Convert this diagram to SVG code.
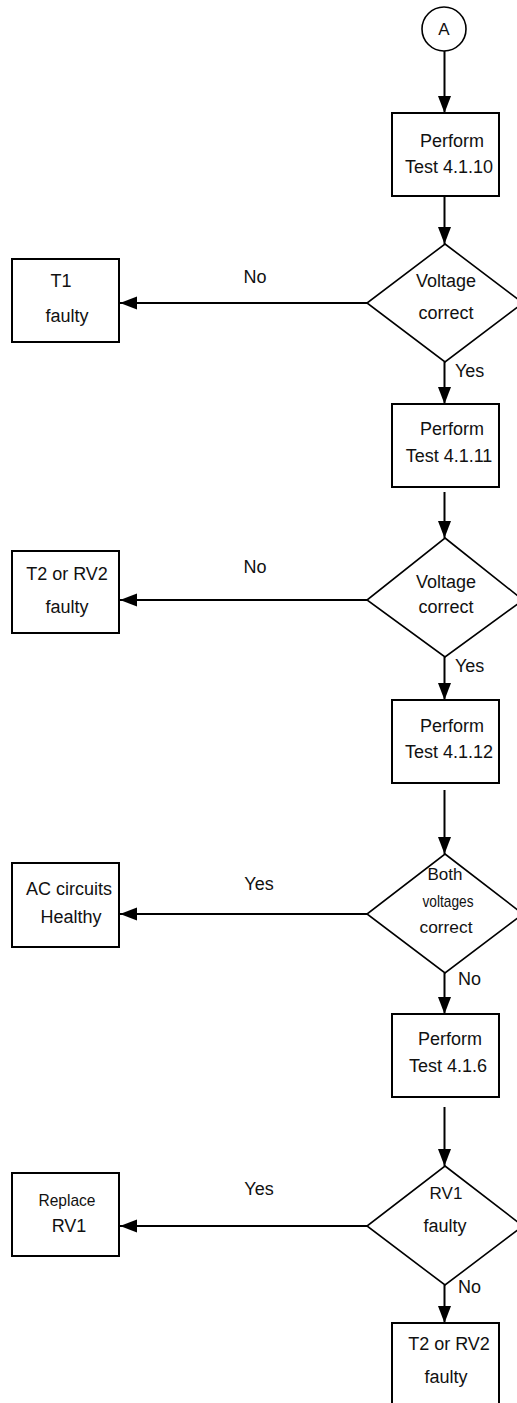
<svg xmlns="http://www.w3.org/2000/svg" width="517" height="1403" viewBox="0 0 517 1403">
<style>
.box{fill:#fff;stroke:#000;stroke-width:2}
.dia{fill:#fff;stroke:#000;stroke-width:1.6}
.con{fill:none;stroke:#000;stroke-width:2}
text{font-family:"Liberation Sans",Arial,sans-serif;font-size:18px;fill:#111;text-anchor:middle}
.sm{font-size:17px}
.lbl{text-anchor:start}
</style>
<defs>
<marker id="ah" markerUnits="userSpaceOnUse" markerWidth="18" markerHeight="14" refX="17" refY="6.5" orient="auto">
<path d="M0,0 L17,6.5 L0,13 z" fill="#000"/>
</marker>
</defs>
<rect width="517" height="1403" fill="#fff"/>
<g id="connectors">
<line class="con" x1="444.5" y1="51" x2="444.5" y2="113" marker-end="url(#ah)"/>
<line class="con" x1="444.5" y1="197" x2="444.5" y2="244" marker-end="url(#ah)"/>
<line class="con" x1="367" y1="303" x2="120" y2="303" marker-end="url(#ah)"/>
<line class="con" x1="444.5" y1="362" x2="444.5" y2="404" marker-end="url(#ah)"/>
<line class="con" x1="444.5" y1="492" x2="444.5" y2="538" marker-end="url(#ah)"/>
<line class="con" x1="367" y1="600" x2="120" y2="600" marker-end="url(#ah)"/>
<line class="con" x1="444.5" y1="657" x2="444.5" y2="700" marker-end="url(#ah)"/>
<line class="con" x1="444.5" y1="790" x2="444.5" y2="854" marker-end="url(#ah)"/>
<line class="con" x1="367" y1="914" x2="120" y2="914" marker-end="url(#ah)"/>
<line class="con" x1="444.5" y1="973" x2="444.5" y2="1014" marker-end="url(#ah)"/>
<line class="con" x1="444.5" y1="1107" x2="444.5" y2="1166" marker-end="url(#ah)"/>
<line class="con" x1="367" y1="1226" x2="120" y2="1226" marker-end="url(#ah)"/>
<line class="con" x1="444.5" y1="1285" x2="444.5" y2="1323" marker-end="url(#ah)"/>
<text x="255" y="283">No</text>
<text class="lbl" x="455" y="377">Yes</text>
<text x="255" y="573">No</text>
<text class="lbl" x="455" y="672">Yes</text>
<text x="259" y="890">Yes</text>
<text class="lbl" x="458" y="985">No</text>
<text x="259" y="1195">Yes</text>
<text class="lbl" x="458" y="1293">No</text>
</g>
<g id="startA">
<circle cx="444" cy="29" r="22" fill="#fff" stroke="#000" stroke-width="1.6"/>
<text x="444" y="35" style="font-size:17px">A</text>
</g>
<g id="test4110">
<rect class="box" x="392" y="113" width="107" height="83"/>
<text x="452" y="147">Perform</text>
<text x="449" y="173">Test 4.1.10</text>
</g>
<g id="dec1">
<polygon class="dia" points="445,244 523,303 445,362 367,303"/>
<text x="446" y="287">Voltage</text>
<text x="446" y="319">correct</text>
</g>
<g id="t1faulty">
<rect class="box" x="12" y="259" width="107" height="83"/>
<text x="61" y="287">T1</text>
<text x="67" y="322">faulty</text>
</g>
<g id="test4111">
<rect class="box" x="392" y="404" width="107" height="83"/>
<text x="452" y="435">Perform</text>
<text x="449" y="462">Test 4.1.11</text>
</g>
<g id="dec2">
<polygon class="dia" points="445,538 523,600 445,657 367,600"/>
<text x="446" y="588">Voltage</text>
<text x="446" y="613">correct</text>
</g>
<g id="t2faulty">
<rect class="box" x="12" y="551" width="107" height="82"/>
<text x="67" y="580">T2 or RV2</text>
<text x="67" y="613">faulty</text>
</g>
<g id="test4112">
<rect class="box" x="392" y="700" width="107" height="83"/>
<text x="452" y="732">Perform</text>
<text x="449" y="758">Test 4.1.12</text>
</g>
<g id="dec3">
<polygon class="dia" points="445,854 523,914 445,973 367,914"/>
<text class="sm" x="445" y="880" textLength="35" lengthAdjust="spacingAndGlyphs">Both</text>
<text class="sm" x="448" y="907" textLength="51" lengthAdjust="spacingAndGlyphs">voltages</text>
<text class="sm" x="446" y="933" textLength="53" lengthAdjust="spacingAndGlyphs">correct</text>
</g>
<g id="acHealthy">
<rect class="box" x="12" y="863" width="107" height="84"/>
<text x="69" y="895">AC circuits</text>
<text x="71" y="923">Healthy</text>
</g>
<g id="test416">
<rect class="box" x="392" y="1014" width="107" height="83"/>
<text x="450" y="1045">Perform</text>
<text x="448" y="1072">Test 4.1.6</text>
</g>
<g id="dec4">
<polygon class="dia" points="445,1166 523,1226 445,1285 367,1226"/>
<text class="sm" x="446" y="1199">RV1</text>
<text x="445" y="1232">faulty</text>
</g>
<g id="replaceRV1">
<rect class="box" x="12" y="1173" width="107" height="83"/>
<text class="sm" x="67" y="1206" textLength="57" lengthAdjust="spacingAndGlyphs">Replace</text>
<text x="69" y="1232">RV1</text>
</g>
<g id="t2faulty2">
<rect class="box" x="392" y="1323" width="107" height="100"/>
<text x="449" y="1350">T2 or RV2</text>
<text x="446" y="1383">faulty</text>
</g>
</svg>
